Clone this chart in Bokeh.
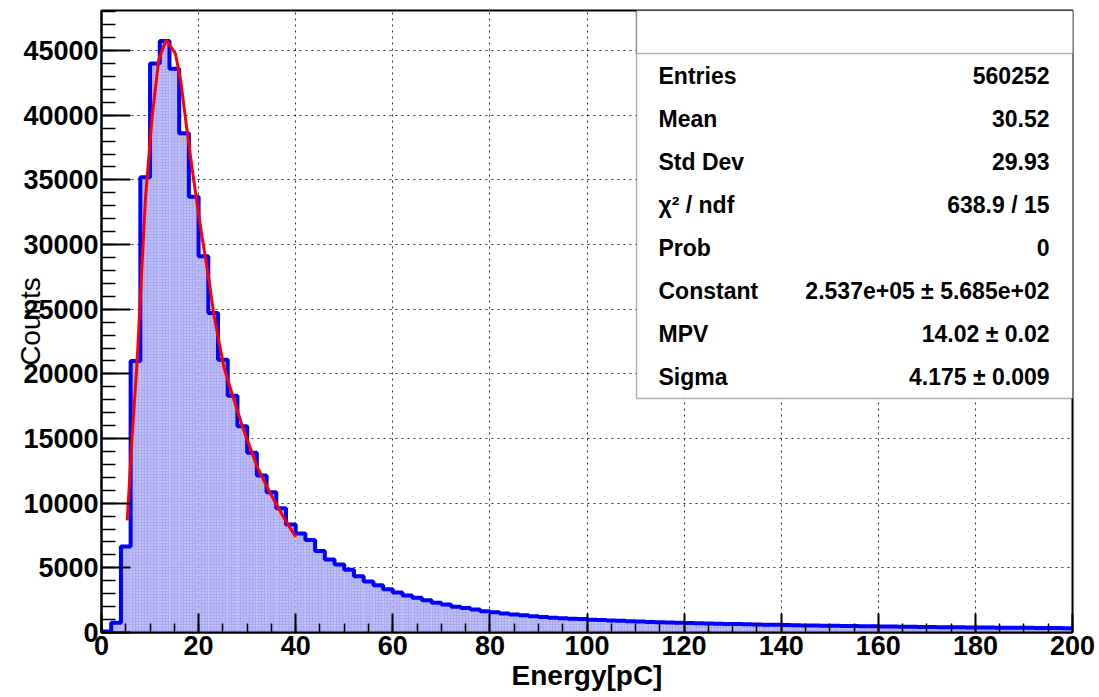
import math
from bokeh.plotting import figure
from bokeh.models import Range1d, FixedTicker, Label, BoxAnnotation
from bokeh.embed import file_html
from bokeh.resources import INLINE

# ---------------- data ----------------
bin_lo = 0.0
bin_width = 2.0
counts = [
    80, 750, 6650, 21000, 35200, 44000, 45750, 43600, 38600, 33700,
    29100, 24700, 21100, 18300, 15950, 13900, 12150, 10850, 9600, 8350,
    7650, 7150, 6300, 5650, 5250, 4850, 4350, 3950, 3650, 3350,
    3100, 2870, 2680, 2490, 2310, 2170, 1990, 1890, 1770, 1650,
    1560, 1460, 1400, 1330, 1250, 1200, 1150, 1110, 1070, 1040,
    990, 960, 930, 900, 870, 850, 820, 800, 780, 760,
    730, 720, 700, 680, 660, 650, 630, 620, 600, 590,
    575, 560, 550, 540, 530, 515, 505, 495, 485, 475,
    465, 455, 450, 440, 430, 425, 415, 410, 400, 395,
    390, 380, 375, 370, 365, 360, 350, 345, 340, 335,
]
fit_x = [5.3, 6.3, 7.35, 8.4, 9.06, 10.4, 11.8, 13.3, 15.2, 16.3, 17.6, 19.0,
         20.7, 22.1, 23.1, 25.2, 27.3, 29.3, 32.1, 34.8, 37.5, 40.0]
fit_y = [8670, 15100, 21050, 28800, 33600, 39800, 44300, 45820, 44790, 42720,
         38850, 34980, 30600, 27380, 24670, 20530, 17960, 15630, 12790, 10730,
         8920, 7380]
x_ticks = [0, 20, 40, 60, 80, 100, 120, 140, 160, 180, 200]
y_ticks = [0, 5000, 10000, 15000, 20000, 25000, 30000, 35000, 40000, 45000]
x_title = "Energy[pC]"
y_title = "Counts"
stat_labels = ["Entries", "Mean", "Std Dev", "\u03c7\u00b2 / ndf", "Prob",
               "Constant", "MPV", "Sigma"]
stat_values = ["560252", "30.52", "29.93", "638.9 / 15", "0",
               "2.537e+05 \u00b1 5.685e+02", "14.02 \u00b1 0.02",
               "4.175 \u00b1 0.009"]

# ---------------- layout ----------------
W, H = 1099, 697
L, R, T, B = 101, 27, 10, 65
X_MAX = 200.0
Y_MAX = 48100.0
FW = W - L - R
FH = H - T - B
FONT = "Liberation Sans"


def px2x(px):
    return (px - L) / FW * X_MAX


def py2y(py):
    return (H - B - py) / FH * Y_MAX


p = figure(width=W, height=H, x_range=Range1d(0, X_MAX), y_range=Range1d(0, Y_MAX),
           output_backend="svg", toolbar_location=None,
           min_border_left=L, min_border_right=R, min_border_top=T, min_border_bottom=B)
p.background_fill_color = "white"
p.border_fill_color = "white"
p.outline_line_color = "black"
p.outline_line_width = 2

# histogram fill
lefts = [bin_lo + i * bin_width for i in range(len(counts))]
rights = [l + bin_width for l in lefts]
p.quad(left=lefts, right=rights, top=counts, bottom=0,
       fill_color="#aaaaf2", line_color=None,
       hatch_pattern="dot", hatch_color="white", hatch_scale=3, hatch_weight=1,
       hatch_alpha=0.6)

# histogram outline
ox = [bin_lo]
oy = [0]
for l, r, c in zip(lefts, rights, counts):
    ox += [l, r]
    oy += [c, c]
p.line(ox, oy, line_color="#0000ff", line_width=4)

# fit curve
p.line(fit_x, fit_y, line_color="#ff0000", line_width=3)

# axes
for ax, maj, mnr, ticks, minors in (
        (p.xaxis, 19, 9, x_ticks, list(range(0, 201, 5))),
        (p.yaxis, 29, 14, y_ticks, list(range(0, 48001, 1000)))):
    ax.ticker = FixedTicker(ticks=ticks, minor_ticks=minors)
    ax.major_tick_in = maj
    ax.major_tick_out = 0
    ax.minor_tick_in = mnr
    ax.minor_tick_out = 0
    ax.axis_line_width = 2
    ax.axis_line_color = "black"
    ax.major_tick_line_width = 2
    ax.major_tick_line_color = "black"
    ax.minor_tick_line_width = 1.5
    ax.minor_tick_line_color = "black"
    ax.major_label_text_font = FONT
    ax.major_label_text_font_style = "bold"
    ax.major_label_text_font_size = "27px"
    ax.major_label_text_color = "black"
    ax.major_label_standoff = 3
    ax.axis_label_text_font = FONT
    ax.axis_label_text_color = "black"

p.xaxis.axis_label = x_title
p.xaxis.axis_label_text_font_style = "bold"
p.xaxis.axis_label_text_font_size = "28px"
p.xaxis.axis_label_standoff = 2

p.yaxis.axis_label = y_title
p.yaxis.axis_label_text_font_style = "normal"
p.yaxis.axis_label_text_font_size = "28px"
p.yaxis.axis_label_standoff = -26

for g in (p.xgrid, p.ygrid):
    g.grid_line_color = "black"
    g.grid_line_dash = "2 4"
    g.grid_line_width = 1
    g.grid_line_alpha = 0.8

# stats box
p.add_layout(BoxAnnotation(left=px2x(636), right=px2x(1073), top=Y_MAX, bottom=py2y(398),
                           fill_color="white", fill_alpha=1, line_color="black",
                           line_width=1.5))
p.add_layout(BoxAnnotation(left=px2x(636), right=px2x(1073), top=Y_MAX, bottom=py2y(53),
                           fill_color="white", fill_alpha=1, line_color="black",
                           line_width=1.5))
row_y = 75
for lab, val in zip(stat_labels, stat_values):
    p.add_layout(Label(x=px2x(658), y=py2y(row_y), text=lab, text_align="left",
                       text_baseline="middle", text_font=FONT, text_font_style="bold",
                       text_font_size="23px", text_color="black"))
    p.add_layout(Label(x=px2x(1049), y=py2y(row_y), text=val, text_align="right",
                       text_baseline="middle", text_font=FONT, text_font_style="bold",
                       text_font_size="23px", text_color="black"))
    row_y += 43

open("out.html", "w").write(file_html(p, INLINE))
